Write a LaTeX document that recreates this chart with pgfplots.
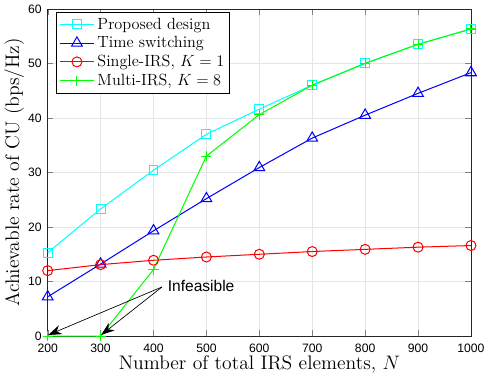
\documentclass[border=0pt]{standalone}
\usepackage{pgfplots}
\pgfplotsset{compat=1.18}
\usetikzlibrary{arrows.meta}
\usepackage{fontspec}
\newfontfamily\arial{Liberation Sans}
\definecolor{mcyan}{rgb}{0,1,1}
\definecolor{mblue}{rgb}{0,0,1}
\definecolor{mred}{rgb}{1,0,0}
\definecolor{mgreen}{rgb}{0,1,0}
\begin{document}
\begin{tikzpicture}
\begin{axis}[
  scale only axis,
  width=313pt, height=242pt,
  xmin=200, xmax=1000, ymin=0, ymax=60,
  xtick={200,300,...,1000}, ytick={0,10,...,60},
  grid=major, major grid style={gray!20},
  axis line style={black!85},
  tick align=inside, tick pos=both,
  /pgf/number format/assume math mode=true,
  /pgf/number format/1000 sep={},
  tick label style={font=\arial\fontsize{9}{10}\selectfont},
  xticklabel style={yshift=-2pt},
  yticklabel style={xshift=-1pt},
  xlabel={Number of total IRS elements, $N$},
  ylabel={Achievable rate of CU (bps/Hz)},
  label style={font=\fontsize{14.5}{17}\selectfont},
  xlabel style={yshift=4pt},
  ylabel style={yshift=-4pt},
  legend style={font=\fontsize{12}{14}\selectfont, draw=black, row sep=0pt, inner sep=2pt,
     at={(0.02,0.99)}, anchor=north west},
  legend cell align=left,
  legend image code/.code={\draw[mark repeat=2,mark phase=2] plot coordinates {(0cm,0cm)(0.45cm,0cm)(0.9cm,0cm)};},
  every axis plot/.append style={line width=0.75pt},
]
\addplot[mcyan, mark=square, mark size=3.3pt] coordinates {
(200,15.3)(300,23.3)(400,30.4)(500,37.0)(600,41.6)(700,46.0)(800,50.0)(900,53.5)(1000,56.3)};
\addlegendentry{Proposed design}
\addplot[mblue, mark=triangle, mark size=4.6pt] coordinates {
(200,7.2)(300,13.2)(400,19.3)(500,25.2)(600,30.9)(700,36.3)(800,40.5)(900,44.5)(1000,48.3)};
\addlegendentry{Time switching}
\addplot[mred, mark=o, mark size=3.7pt] coordinates {
(200,12.0)(300,13.1)(400,13.9)(500,14.5)(600,15.0)(700,15.5)(800,15.9)(900,16.3)(1000,16.6)};
\addlegendentry{Single-IRS, $K=1$}
\addplot[mgreen, mark=+, mark size=3.7pt] coordinates {
(200,0)(300,0)(400,12.2)(500,33.0)(600,40.6)(700,46.0)(800,50.0)(900,53.5)(1000,56.3)};
\addlegendentry{Multi-IRS, $K=8$}
\node[anchor=west, font=\arial\fontsize{11.5}{13}\selectfont, inner sep=1pt] (inf) at (axis cs:424,9.2) {Infeasible};
\draw[-{Stealth[length=10pt,width=7pt]}, black, line width=0.5pt] (axis cs:416,9.0) -- (axis cs:201,0.2);
\draw[-{Stealth[length=10pt,width=7pt]}, black, line width=0.5pt] (axis cs:416,9.0) -- (axis cs:301,0.2);
\end{axis}
\end{tikzpicture}
\end{document}
